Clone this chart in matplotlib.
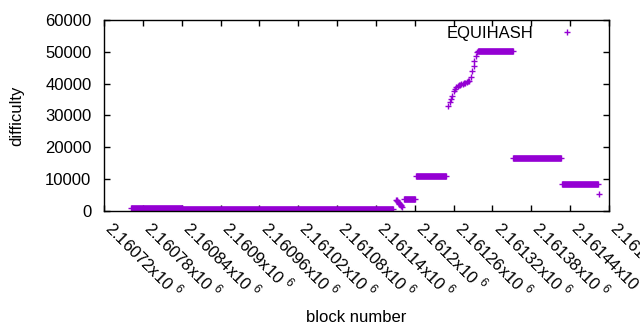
import numpy as np
import matplotlib
matplotlib.use('Agg')
import matplotlib.pyplot as plt
from matplotlib.lines import Line2D

plt.rcParams['font.family'] = ['Liberation Sans', 'DejaVu Sans']
plt.rcParams['mathtext.fontset'] = 'custom'
plt.rcParams['mathtext.rm'] = 'Liberation Sans'
plt.rcParams['font.size'] = 12

color = '#9400d3'

# runs of blocks with (nearly) constant difficulty
seg_start = [2160762, 2160840, 2161183, 2161202, 2161298, 2161352, 2161427]
seg_end = [2160840, 2161167, 2161201, 2161249, 2161351, 2161426, 2161483]
seg_diff = [1000, 600, 3600, 10800, 50300, 16500, 8300]

# single blocks in between
drop_blocks = [2161171, 2161172, 2161173, 2161174, 2161175, 2161176, 2161177, 2161178, 2161179, 2161180]
drop_diff = [3500, 3300, 3000, 2700, 2500, 2200, 2000, 1700, 1500, 1200]

rise_blocks = [2161252, 2161254, 2161256, 2161257, 2161260, 2161262, 2161264, 2161266, 2161268,
               2161270, 2161272, 2161274, 2161276, 2161278, 2161280, 2161282, 2161284, 2161287,
               2161289, 2161291, 2161292, 2161294, 2161296]
rise_diff = [33000, 34300, 35200, 36200, 37600, 38200, 38900, 39200, 39400,
             39600, 39800, 40000, 40200, 40300, 40500, 40700, 40900, 42200,
             43900, 45500, 47200, 48700, 49900]

last_block = [2161484]
last_diff = [5350]

xticks = [2160720, 2160780, 2160840, 2160900, 2160960, 2161020, 2161080,
          2161140, 2161200, 2161260, 2161320, 2161380, 2161440, 2161500]
xtick_labels = ['2.16072', '2.16078', '2.16084', '2.1609', '2.16096', '2.16102', '2.16108',
                '2.16114', '2.1612', '2.16126', '2.16132', '2.16138', '2.16144', '2.1615']
yticks = [0, 10000, 20000, 30000, 40000, 50000, 60000]

fig = plt.figure(figsize=(6.4, 3.3), dpi=100)
ax = fig.add_axes([104 / 640, 1 - 210.7 / 330, 505 / 640, 190.7 / 330])

ms = 4.8
mew = 1.0
for s, e, d in zip(seg_start, seg_end, seg_diff):
    ax.plot([s, e], [d, d], color=color, lw=ms, solid_capstyle='butt')
    ax.plot([s, e], [d, d], '+', color=color, ms=ms, mew=mew)

ax.plot(drop_blocks, drop_diff, '+', color=color, ms=ms, mew=mew)
ax.plot(rise_blocks, rise_diff, '+', color=color, ms=ms, mew=mew)
ax.plot(last_block, last_diff, '+', color=color, ms=ms, mew=mew)

ax.set_xlim(xticks[0], xticks[-1])
ax.set_ylim(0, 60000)
ax.set_xticks(xticks)
ax.set_xticklabels([t + r'x10 $^{6}$' for t in xtick_labels], rotation=-45,
                   ha='left', va='baseline', rotation_mode='anchor')
ax.set_yticks(yticks)
ax.tick_params(direction='in', length=4, width=1, top=True, right=True)
ax.tick_params(axis='y', pad=9)
ax.tick_params(axis='x', pad=13.5)
for sp in ax.spines.values():
    sp.set_linewidth(1)

ax.set_xlabel('block number')
ax.set_ylabel('difficulty')
ax.xaxis.set_label_coords(0.5, -0.52)
ax.yaxis.set_label_coords(-0.158, 0.5)

handle = Line2D([], [], ls='none', marker='+', color=color, ms=ms, mew=mew)
ax.legend([handle], ['EQUIHASH'], markerfirst=False, frameon=False,
          loc='upper right', bbox_to_anchor=(590 / 640, 1 - 19.5 / 330),
          bbox_transform=fig.transFigure, handlelength=2, handletextpad=1.0,
          borderaxespad=0)

fig.savefig('out.png', dpi=100)
